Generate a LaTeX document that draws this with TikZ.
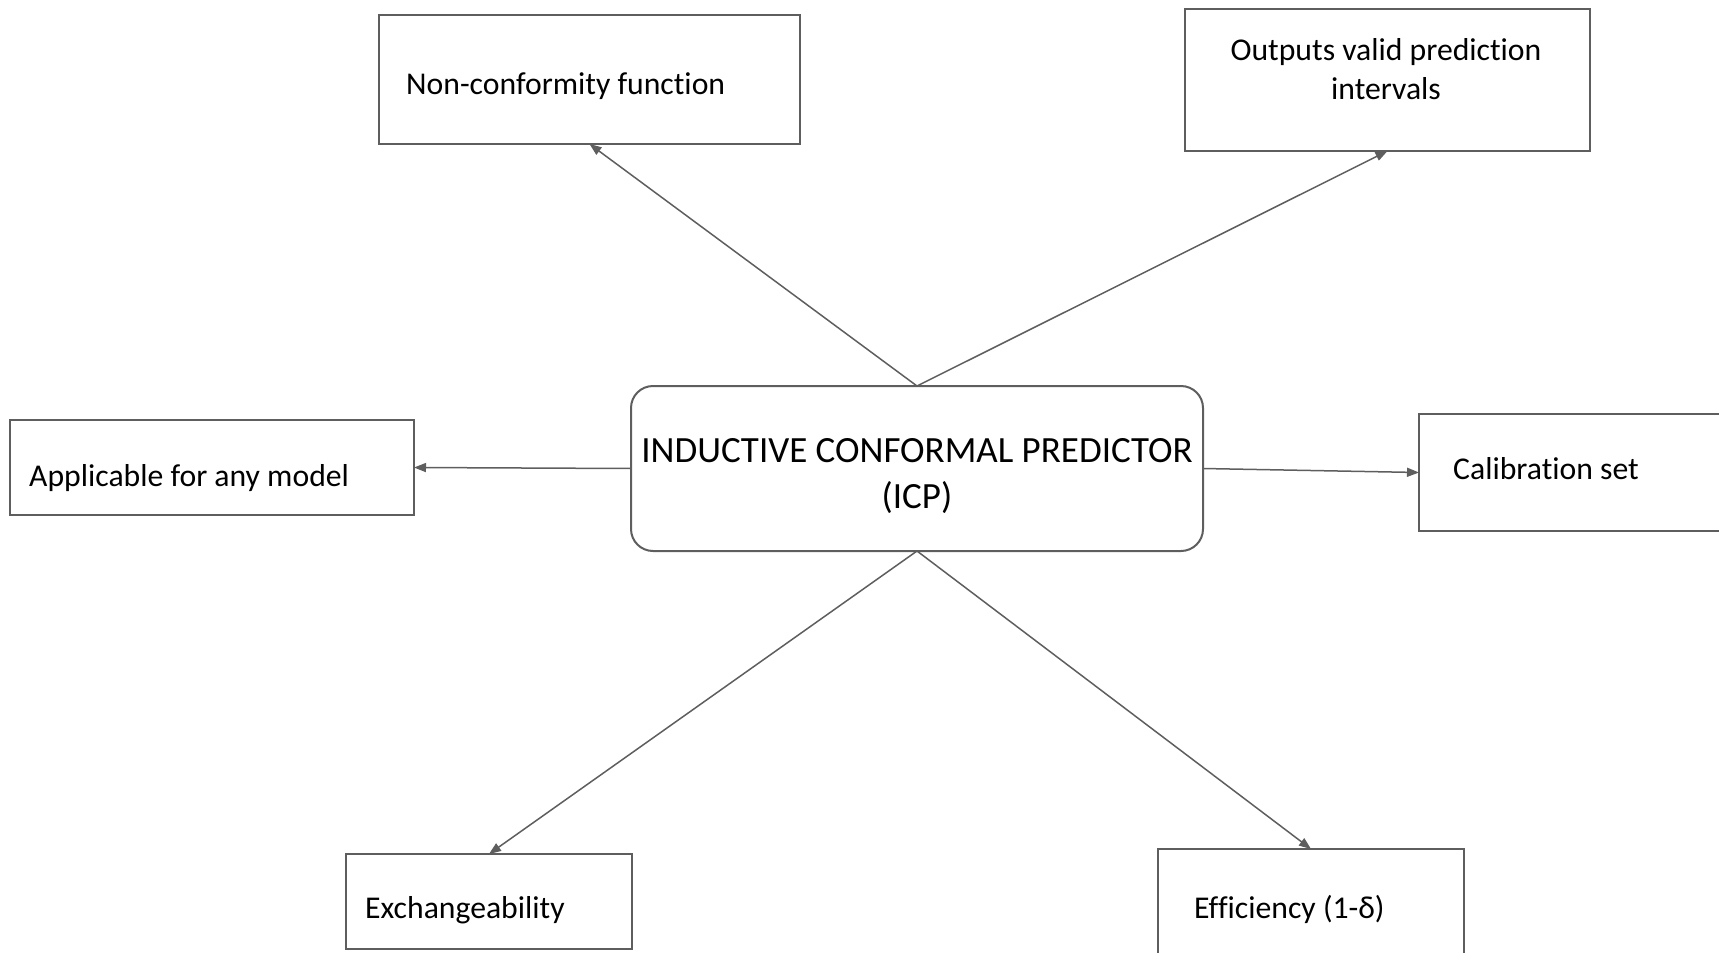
\documentclass[tikz,border=0pt]{standalone}
\usepackage{fontspec}
\setmainfont{Carlito}[Ligatures=NoCommon]
\usetikzlibrary{arrows.meta}
\definecolor{edge}{HTML}{5E5E5E}
\tikzset{
  box/.style={draw=edge, line width=2pt, rectangle, inner sep=0pt, outer sep=0pt},
  mainbox/.style={box, rounded corners=22pt},
  lbl/.style={inner sep=0pt, font=\fontsize{31.7}{39}\selectfont, text=black},
  mainlbl/.style={inner sep=0pt, font=\fontsize{37}{46}\selectfont, text=black, align=center},
  conn/.style={draw=edge, line width=1.5pt, -{Triangle[length=12pt,width=9pt]}}
}
\begin{document}
\begin{tikzpicture}[x=1pt,y=-1pt]
\useasboundingbox (0,0) rectangle (1719,953);
\clip (0,0) rectangle (1719,953);
% boxes
\node[box, minimum width=421pt, minimum height=129pt] (nc) at (589.5,79.5) {};
\node[box, minimum width=405pt, minimum height=142pt] (out) at (1387.5,80) {};
\node[mainbox, minimum width=572pt, minimum height=165pt] (icp) at (917,468.5) {};
\node[box, minimum width=404pt, minimum height=95pt] (app) at (212,467.5) {};
\node[box, minimum width=306pt, minimum height=117pt] (cal) at (1572,472.5) {};
\node[box, minimum width=286pt, minimum height=95pt] (exc) at (489,901.5) {};
\node[box, minimum width=306pt, minimum height=121pt] (eff) at (1311,909.5) {};
% texts
\node[lbl, anchor=west] (tnc) at (406,86) {Non-conformity function};
\node[lbl, align=center] (tout) at (1386,69.5) {Outputs valid prediction\\intervals};
\node[mainlbl] (ticp) at (917,476) {INDUCTIVE CONFORMAL PREDICTOR\\(ICP)};
\node[lbl, anchor=west] (tapp) at (29,478) {Applicable for any model};
\node[lbl, anchor=west] (tcal) at (1453,469) {Calibration set};
\node[lbl, anchor=west] (texc) at (365,910) {Exchangeability};
\node[lbl, anchor=west] (teff) at (1194,909) {Efficiency (1-δ)};
% connectors
\draw[conn] (icp.north) -- (nc.south);
\draw[conn] (icp.north) -- (out.south);
\draw[conn] (icp.west) -- (app.east);
\draw[conn] (icp.east) -- (cal.west);
\draw[conn] (icp.south) -- (exc.north);
\draw[conn] (icp.south) -- (eff.north);
\end{tikzpicture}
\end{document}
